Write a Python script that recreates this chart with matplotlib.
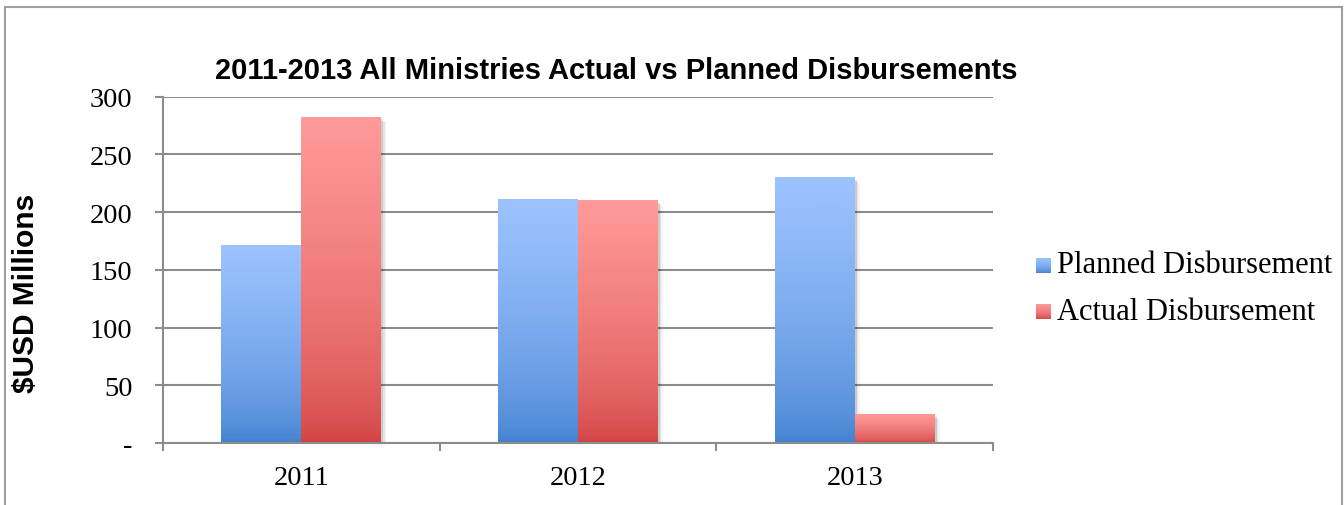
import numpy as np
import matplotlib
matplotlib.use("Agg")
import matplotlib.pyplot as plt
from matplotlib.colors import LinearSegmentedColormap
from matplotlib.patches import Rectangle
from matplotlib.transforms import ScaledTranslation
from matplotlib.lines import Line2D

# Données (millions USD)
years = ["2011", "2012", "2013"]
planned = [171, 211, 230]
actual = [282, 210, 25]
series_names = ["Planned Disbursement", "Actual Disbursement"]

# Couleurs des dégradés (bas -> haut)
blue_lo, blue_hi = "#3f7fce", "#9dc3ff"
red_lo, red_hi = "#d04040", "#ff9a98"
grid_col = "#8c8c8c"

W, H, DPI = 1344, 506, 100
fig = plt.figure(figsize=(W / DPI, H / DPI), dpi=DPI)
ax = fig.add_axes([163 / W, 62 / H, (993 - 163) / W, (444 - 97.7) / H])

serif = "Liberation Serif"
sans = "Liberation Sans"


def grad_cmap(lo, hi):
    # dégradé un peu non linéaire (le haut reste clair plus longtemps)
    base = LinearSegmentedColormap.from_list("g", [lo, hi])
    t = np.linspace(0, 1, 256) ** 0.6
    return LinearSegmentedColormap.from_list("g2", base(t))


cmaps = [grad_cmap(blue_lo, blue_hi), grad_cmap(red_lo, red_hi)]
grad = np.linspace(0, 1, 256).reshape(-1, 1)

x = np.arange(len(years))
bw = 0.289

for si, vals in enumerate([planned, actual]):
    for xi, v in zip(x, vals):
        x0 = xi + (si - 1) * bw
        # ombre portée légère
        for k, a in enumerate([0.10, 0.07, 0.04]):
            off = ScaledTranslation((2 + 1.5 * k) / DPI, -(2 + 1.5 * k) / DPI, fig.dpi_scale_trans)
            ax.add_patch(Rectangle((x0, 0), bw, v, facecolor="black", edgecolor="none",
                                   alpha=a, zorder=1.5, transform=ax.transData + off))
        ax.imshow(grad, cmap=cmaps[si], origin="lower", extent=[x0, x0 + bw, 0, v],
                  aspect="auto", zorder=2, interpolation="bilinear")

ax.set_xlim(-0.5, 2.5)
ax.set_ylim(0, 300)
ax.set_aspect("auto")

# Axes et grille
ax.set_axisbelow(True)
ax.yaxis.grid(True, color=grid_col, linewidth=1.5)
for s in ["top", "right"]:
    ax.spines[s].set_visible(False)
for s in ["left", "bottom"]:
    ax.spines[s].set_color(grid_col)
    ax.spines[s].set_linewidth(1.5)

ax.set_yticks(range(0, 301, 50))
ax.set_yticklabels(["-"] + [str(v) for v in range(50, 301, 50)])
ax.tick_params(axis="y", length=6, width=1.5, color=grid_col, pad=16,
               labelsize=20.5)
ax.set_xticks([-0.5, 0.5, 1.5, 2.5])
ax.set_xticklabels([])
ax.set_xticks(x, minor=True)
ax.set_xticklabels(years, minor=True)
ax.tick_params(axis="x", which="major", length=6, width=1.5, color=grid_col)
ax.tick_params(axis="x", which="minor", length=0, pad=16, labelsize=20.5)
for lab in ax.get_yticklabels() + ax.get_xticklabels(minor=True):
    lab.set_fontfamily(serif)

# Titre et libellé vertical
fig.text(616.5 / W, 1 - 71 / H, "2011-2013 All Ministries Actual vs Planned Disbursements",
         ha="center", va="center", fontsize=21, fontweight="bold", family=sans)
fig.text(26 / W, 1 - 293 / H, "$USD Millions", rotation=90, ha="center", va="center",
         fontsize=21.5, fontweight="bold", family=sans)

# Légende manuelle avec carrés en dégradé
for i, (name, cm) in enumerate(zip(series_names, cmaps)):
    yc = 266 + i * 46
    sq = fig.add_axes([1036 / W, 1 - (yc + 7.5) / H, 15 / W, 15 / H])
    sq.imshow(grad, cmap=cm, origin="lower", aspect="auto")
    sq.axis("off")
    fig.text(1057 / W, 1 - yc / H, name, ha="left", va="center",
             fontsize=22, family=serif)

# Cadre extérieur (sans bord inférieur)
frame = dict(color="#a0a0a0", linewidth=1.5, transform=fig.transFigure)
fig.add_artist(Line2D([5 / W, 5 / W], [0, 1 - 8 / H], **frame))
fig.add_artist(Line2D([5 / W, 1342 / W], [1 - 8 / H, 1 - 8 / H], **frame))
fig.add_artist(Line2D([1342 / W, 1342 / W], [0, 1 - 8 / H], **frame))

fig.savefig("out.png", dpi=DPI)
